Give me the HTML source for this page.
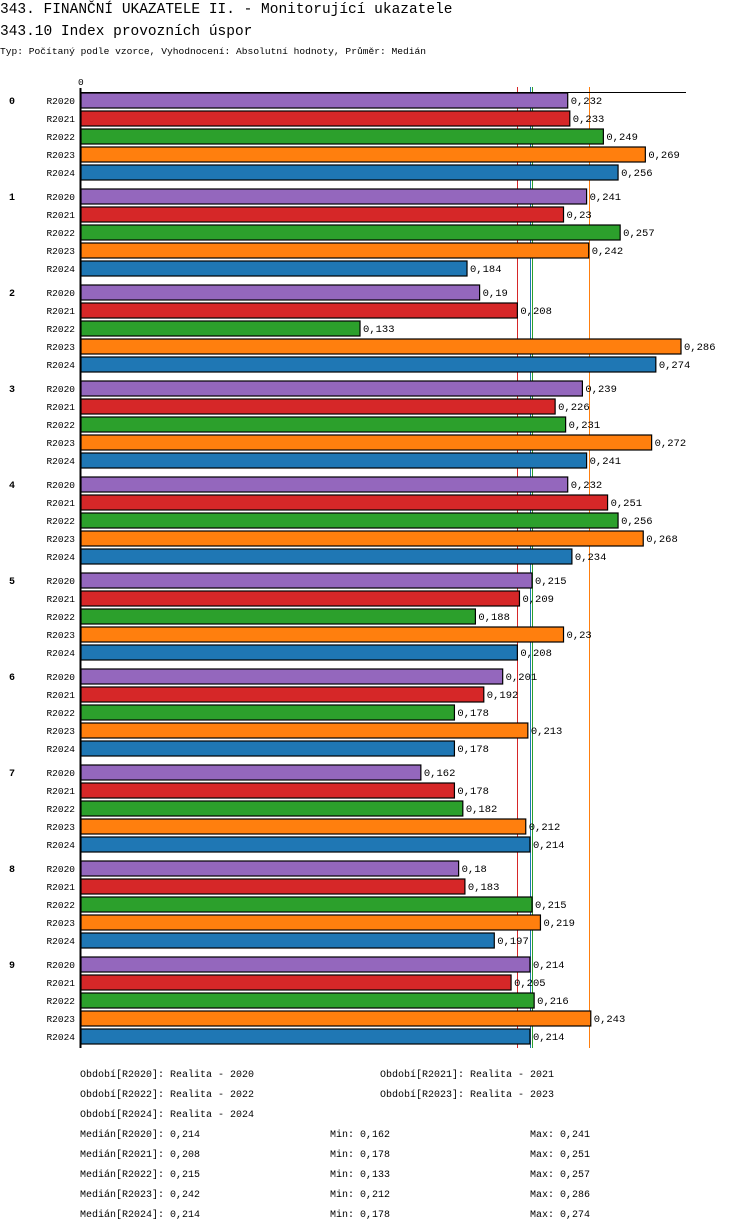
<!DOCTYPE html>
<html><head><meta charset="utf-8"><style>
body{margin:0;background:#fff;width:750px;height:1232px;overflow:hidden;font-family:"Liberation Mono",monospace}
svg{display:block}
text{font-family:"Liberation Mono","DejaVu Sans Mono",monospace;fill:#000}
</style></head><body>
<svg id="c" width="750" height="1232">
<text x="0" y="13" font-size="14.5">343. FINANČNÍ UKAZATELE II. - Monitorující ukazatele</text>
<text x="0" y="35" font-size="14.5">343.10 Index provozních úspor</text>
<text x="0" y="54" font-size="9.6">Typ: Počítaný podle vzorce, Vyhodnocení: Absolutní hodnoty, Průměr: Medián</text>
<g id="plot"></g>
<g id="legend"></g>
</svg>
<script>
const groups=['0','1','2','3','4','5','6','7','8','9'];
const series=['R2020','R2021','R2022','R2023','R2024'];
const colors=['#9467bd','#d62728','#2ca02c','#ff7f0e','#1f77b4'];
const v2020=[0.232,0.241,0.19,0.239,0.232,0.215,0.201,0.162,0.18,0.214];
const v2021=[0.233,0.23,0.208,0.226,0.251,0.209,0.192,0.178,0.183,0.205];
const v2022=[0.249,0.257,0.133,0.231,0.256,0.188,0.178,0.182,0.215,0.216];
const v2023=[0.269,0.242,0.286,0.272,0.268,0.23,0.213,0.212,0.219,0.243];
const v2024=[0.256,0.184,0.274,0.241,0.234,0.208,0.178,0.214,0.197,0.214];
const medians=[0.214,0.208,0.215,0.242,0.214];
const mins=[0.162,0.178,0.133,0.212,0.178];
const maxs=[0.241,0.251,0.257,0.286,0.274];
const periods=['Realita - 2020','Realita - 2021','Realita - 2022','Realita - 2023','Realita - 2024'];
const vals=[v2020,v2021,v2022,v2023,v2024];
const NS='http://www.w3.org/2000/svg';
const X0=81,SC=600/0.286,Y0=92,GH=96,BH=18;
const x=v=>X0+v*SC;
const plot=document.getElementById('plot');
function mk(tag,attrs,parent,txt){const e=document.createElementNS(NS,tag);for(const k in attrs)e.setAttribute(k,attrs[k]);if(txt!==undefined)e.textContent=txt;parent.appendChild(e);return e;}
const fmt=v=>String(v).replace('.',',');
const yEnd=Y0+groups.length*GH-4;
medians.forEach((m,i)=>{
  let l=mk('line',{x1:Math.round(x(m))+0.5,y1:Y0-5,x2:Math.round(x(m))+0.5,y2:yEnd,stroke:colors[i],'stroke-width':1},plot);
  
  
});
let t=mk('text',{x:78,y:85,'font-size':9.5},plot,'0');


let ax=mk('line',{x1:80,y1:Y0+0.5,x2:686,y2:Y0+0.5,stroke:'#000','stroke-width':1},plot);


let yl=mk('line',{x1:80.5,y1:Y0-4,x2:80.5,y2:yEnd,stroke:'#000','stroke-width':2},plot);


groups.forEach((g,gi)=>{
  const gy=Y0+gi*GH;
  let gl=mk('text',{x:9,y:gy+12,'font-size':10,'font-weight':'bold'},plot,g);
  
  
  series.forEach((s,si)=>{
    const y=gy+si*BH;
    const v=vals[si][gi];
    let sl=mk('text',{x:75,y:y+12,'font-size':9.5,'text-anchor':'end'},plot,s);
    
    
    let r=mk('rect',{x:X0,y:y+1,width:x(v)-X0,height:BH-3,fill:colors[si],stroke:'#000','stroke-width':1.2},plot);
    
    
    let vl=mk('text',{x:x(v)+3,y:y+12,'font-size':10.5},plot,fmt(v));
    
    
  });
});
const lg=document.getElementById('legend');
const pos=[[80,1077],[380,1077],[80,1097],[380,1097],[80,1117]];
series.forEach((s,i)=>{
  let e=mk('text',{x:pos[i][0],y:pos[i][1],'font-size':10},lg,'Období['+s+']: '+periods[i]);
  
  
  const yy=1137+i*20;
  let a=mk('text',{x:80,y:yy,'font-size':10},lg,'Medián['+s+']: '+fmt(medians[i]));
  
  
  let b=mk('text',{x:330,y:yy,'font-size':10},lg,'Min: '+fmt(mins[i]));
  
  
  let c=mk('text',{x:530,y:yy,'font-size':10},lg,'Max: '+fmt(maxs[i]));
  
  
});
</script>
</body></html>
